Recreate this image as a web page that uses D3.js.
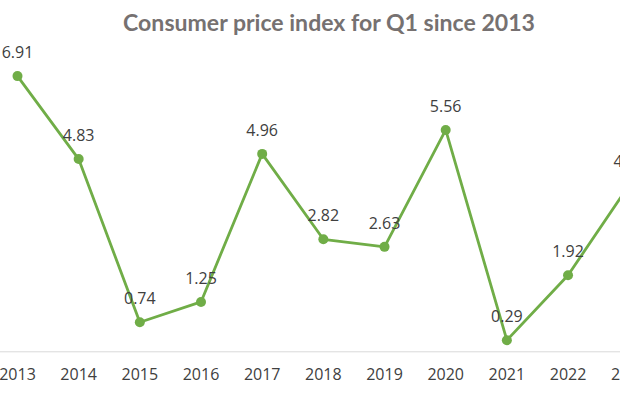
<!DOCTYPE html>
<html><head><meta charset="utf-8">
<script src="https://cdn.jsdelivr.net/npm/d3@7"></script>
<style>html,body{margin:0;padding:0;background:#fff;}svg{display:block;}</style>
</head><body>
<svg id="c" width="620" height="399"></svg>
<script>
const years = ["2013","2014","2015","2016","2017","2018","2019","2020","2021","2022","2023"];
const cpi = [6.91, 4.83, 0.74, 1.25, 4.96, 2.82, 2.63, 5.56, 0.29, 1.92, 4.18];
const title = "Consumer price index for Q1 since 2013";

const svg = d3.select("#c");
const W = 620, H = 399;
const green = "#70ad47";

const x = d3.scaleBand().domain(years).range([-13.1, 659.8]).padding(0);
const y = d3.scaleLinear().domain([0, 8]).range([351.8, 32.6]);
const cx = d => x(d) + x.bandwidth() / 2;

// baseline axis
svg.append("line").attr("x1", 0).attr("x2", W)
  .attr("y1", y(0)).attr("y2", y(0))
  .attr("stroke", "#d9d9d9").attr("stroke-width", 1);

const xAxis = d3.axisBottom(x).tickSize(0).tickPadding(17);
const gx = svg.append("g").attr("transform", `translate(0,${y(0)})`).call(xAxis);
gx.select(".domain").remove();
gx.selectAll("text").attr("font-family", "Open Sans").attr("font-size", 16).attr("fill", "#404040");

const data = years.map((yr, i) => ({yr, v: cpi[i]}));
const line = d3.line().x(d => cx(d.yr)).y(d => y(d.v));
svg.append("path").datum(data).attr("d", line)
  .attr("fill", "none").attr("stroke", green).attr("stroke-width", 2.8).attr("stroke-linejoin", "round");

svg.selectAll("circle.pt").data(data).join("circle")
  .attr("cx", d => cx(d.yr)).attr("cy", d => y(d.v)).attr("r", 5).attr("fill", green);

svg.selectAll("text.lbl").data(data).join("text").attr("class", "lbl")
  .attr("x", d => cx(d.yr)).attr("y", d => y(d.v) - 18)
  .attr("text-anchor", "middle")
  .attr("font-family", "Open Sans").attr("font-size", 16).attr("fill", "#404040")
  .text(d => d.v.toFixed(2));

const t = svg.append("text").attr("x", 329).attr("y", 31)
  .attr("text-anchor", "middle").attr("font-family", "Lato").attr("font-weight", "bold")
  .attr("font-size", 22).attr("fill", "#767171").text(title);
const w = t.node().getComputedTextLength();
t.attr("font-size", 22 * 412 / w);
</script>
</body></html>
